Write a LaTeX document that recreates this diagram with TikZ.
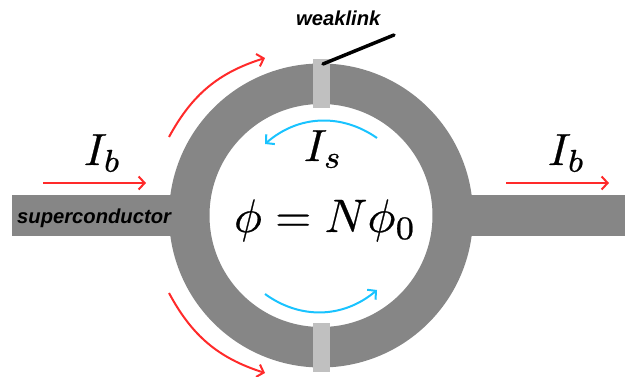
\documentclass[tikz,border=0pt]{standalone}
\usepackage{fontspec}
\setsansfont{Liberation Sans}
\usetikzlibrary{arrows.meta}
\definecolor{ringgray}{HTML}{868686}
\definecolor{linkgray}{HTML}{C0C0C0}
\definecolor{redcur}{HTML}{FF2A2A}
\definecolor{bluecur}{HTML}{19C3FF}
\newcommand{\heavymath}[1]{\special{pdf:code 2 Tr 0.05 w}#1\special{pdf:code 0 Tr}}
\tikzset{
  wirebox/.style={fill=ringgray,inner sep=0pt,minimum height=41pt},
  linkbox/.style={fill=linkgray,inner sep=0pt,minimum width=17pt,minimum height=49pt},
  bigmath/.style={inner sep=0pt,scale=4.5,text=black},
  phimath/.style={inner sep=0pt,scale=4.7,text=black},
  labeltext/.style={inner sep=0pt,font=\sffamily\bfseries\itshape\fontsize{20.2}{24}\selectfont,text=black},
  redarrow/.style={draw=redcur,line width=2pt,-{Straight Barb[length=6pt,width=13pt,line width=2pt]}},
  bluearrow/.style={draw=bluecur,line width=2pt,-{Straight Barb[length=6pt,width=13pt,line width=2pt]}}
}
\begin{document}
\begin{tikzpicture}[x=1pt,y=1pt]
\useasboundingbox (0,0) rectangle (625,377);
\node[wirebox,minimum width=178pt] (wl) at (101,161.5) {};
\node[wirebox,minimum width=165pt] (wr) at (542.5,161.5) {};
\node[circle,draw=ringgray,line width=40.5pt,minimum size=263.5pt,inner sep=0pt] (ring) at (321,161.5) {};
\node[linkbox] (lt) at (321.5,293.5) {};
\node[linkbox] (lb) at (321.5,29.5) {};
\node[labeltext,anchor=base west] (sc) at (17,153) {superconductor};
\node[labeltext,anchor=base west] (wk) at (296,351) {weaklink};
\coordinate (wa) at (323,313);
\coordinate (wb) at (394,342);
\draw[black,line width=3.5pt,line cap=round] (wa) -- (wb);
\coordinate (a1) at (43,194); \coordinate (a2) at (146,194);
\coordinate (b1) at (506,194); \coordinate (b2) at (609,194);
\draw[redarrow] (a1) -- (a2);
\draw[redarrow] (b1) -- (b2);
\coordinate (c1) at (169,240); \coordinate (c2) at (265,319);
\coordinate (d1) at (169,84); \coordinate (d2) at (265,4);
\draw[redarrow] (c1) to[bend left=22] (c2);
\draw[redarrow] (d1) to[bend right=22] (d2);
\coordinate (e1) at (377,239); \coordinate (e2) at (265,233);
\coordinate (f1) at (265,83); \coordinate (f2) at (377,87);
\draw[bluearrow] (e1) to[bend right=38] (e2);
\draw[bluearrow] (f1) to[bend right=38] (f2);
\node[bigmath,anchor=base west] (ib1) at (83,212) {\heavymath{$I_b$}};
\node[bigmath,anchor=base west] (ib2) at (547,212) {\heavymath{$I_b$}};
\node[bigmath,anchor=base west] (is) at (303,216) {\heavymath{$I_s$}};
\node[phimath,anchor=base west] (phi) at (233,145) {\heavymath{$\phi=N\phi_0$}};
\end{tikzpicture}
\end{document}
